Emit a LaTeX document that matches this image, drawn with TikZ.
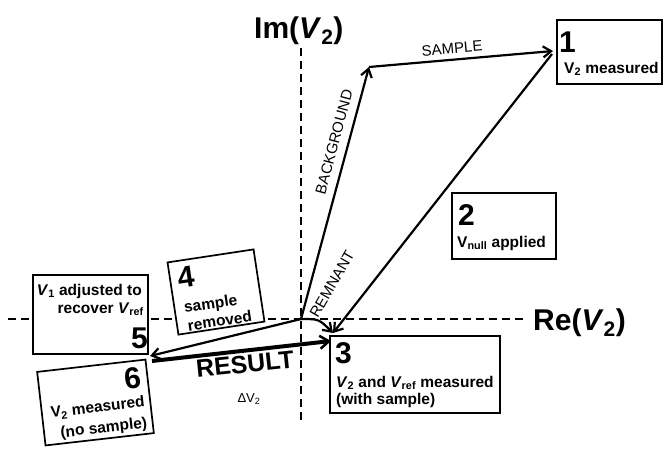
\documentclass[tikz,border=0pt]{standalone}
\usepackage{fontspec}
\setmainfont{Liberation Sans}
\usetikzlibrary{arrows.meta}
\newcommand{\myV}[1]{\textit{V}\textsubscript{#1}}
\newcommand{\myVu}[1]{V\textsubscript{#1}}
\begin{document}
\begin{tikzpicture}[x=1pt,y=-1pt,
  box/.style={draw, fill=white, line width=1.7pt, inner sep=0pt},
  bignum/.style={font=\fontsize{30}{30}\selectfont\bfseries, inner sep=0pt},
  boxtxt/.style={font=\fontsize{15.5}{18}\selectfont\bfseries, inner sep=0pt},
  lbl/.style={font=\fontsize{15}{15}\selectfont, inner sep=0pt},
  axis/.style={line width=2pt, dash pattern=on 8pt off 5pt},
  arr/.style={line width=2.2pt, -{Straight Barb[length=8pt,width=11pt]}},
  thickarr/.style={line width=4pt, -{Straight Barb[length=9pt,width=13pt,line width=2.5pt]}}]
\useasboundingbox (0,0) rectangle (664,450);

% axes
\coordinate (hl) at (8,319);
\coordinate (hr) at (527,319);
\coordinate (vt) at (301,48);
\coordinate (vb) at (301,420);
\draw[axis] (hl) -- (hr);
\draw[axis] (vt) -- (vb);
\node[bignum, anchor=base west] (im) at (254,38) {Im(\textit{V}\textsubscript{2})};
\node[bignum, anchor=base west] (re) at (533,330) {Re(\textit{V}\textsubscript{2})};

% box 1
\node[box, minimum width=105pt, minimum height=64pt] (b1) at (609.5,52) {};
\node[bignum, anchor=base west] (n1) at (559,52) {1};
\node[boxtxt, anchor=base west] (t1) at (564,73) {\myVu{2} measured};

% box 2
\node[box, minimum width=104pt, minimum height=66pt] (b2) at (504,226) {};
\node[bignum, anchor=base west] (n2) at (458,225) {2};
\node[boxtxt, anchor=base west] (t2) at (457,247) {\myVu{null} applied};

% box 3
\node[box, minimum width=170pt, minimum height=77pt] (b3) at (415,374.5) {};
\node[bignum, anchor=base west] (n3) at (335,363) {3};
\node[boxtxt, anchor=base west] (t3a) at (336,387) {\myV{2} and \myV{ref} measured};
\node[boxtxt, anchor=base west] (t3b) at (336,404) {(with sample)};

% box 5
\node[box, minimum width=115pt, minimum height=79pt] (b5) at (90.5,314.5) {};
\node[boxtxt, anchor=base east] (t5a) at (142,295) {\myV{1} adjusted to};
\node[boxtxt, anchor=base east] (t5b) at (144,313) {recover \myV{ref}};
\node[bignum, anchor=base east] (n5) at (148,348) {5};

% box 4 (tilted)
\begin{scope}[shift={(216,292)}, rotate=8.6]
\node[box, minimum width=87pt, minimum height=73pt, transform shape] (b4) at (0,0) {};
\node[bignum, anchor=base west, transform shape] (n4) at (-36,-9) {4};
\node[boxtxt, anchor=base west, transform shape] (t4a) at (-34,16) {sample};
\node[boxtxt, anchor=base west, transform shape] (t4b) at (-33,34.5) {removed};
\end{scope}

% box 6 (tilted)
\begin{scope}[shift={(95.5,402.5)}, rotate=6.5]
\node[box, minimum width=109pt, minimum height=74pt, transform shape] (b6) at (0,0) {};
\node[bignum, anchor=base east, transform shape] (n6) at (48,-10) {6};
\node[boxtxt, anchor=base east, transform shape] (t6a) at (49,10) {\myVu{2} measured};
\node[boxtxt, anchor=base east, transform shape] (t6b) at (49,31) {(no sample)};
\end{scope}

% key points
\coordinate (O) at (301,319);
\coordinate (Bk) at (369,67);
\coordinate (S1) at (553,51);
\coordinate (N0) at (552,54);
\coordinate (P3) at (333,333);
\coordinate (Rc) at (319,319);
\coordinate (P5) at (150,356);
\coordinate (R0) at (152,361);
\coordinate (R3) at (331,341);

% vectors
\draw[arr] (O) -- (Bk);
\draw[arr] (Bk) -- (S1);
\draw[arr] (N0) -- (P3);
\draw[arr] (O) .. controls (Rc) .. (P3);
\draw[arr] (O) -- (P5);
\draw[thickarr] (R0) -- (R3);

% vector labels
\node[lbl, rotate=5] (lsample) at (452,48.5) {SAMPLE};
\node[lbl, rotate=75] (lback) at (334,142) {BACKGROUND};
\node[lbl, rotate=60] (lrem) at (332,284) {REMNANT};
\node[font=\fontsize{25}{25}\selectfont\bfseries, inner sep=0pt, rotate=6] (lres) at (245,364) {RESULT};
\node[font=\fontsize{13}{13}\selectfont, inner sep=0pt] (ldv) at (249,399) {ΔV\textsubscript{2}};
\end{tikzpicture}
\end{document}
